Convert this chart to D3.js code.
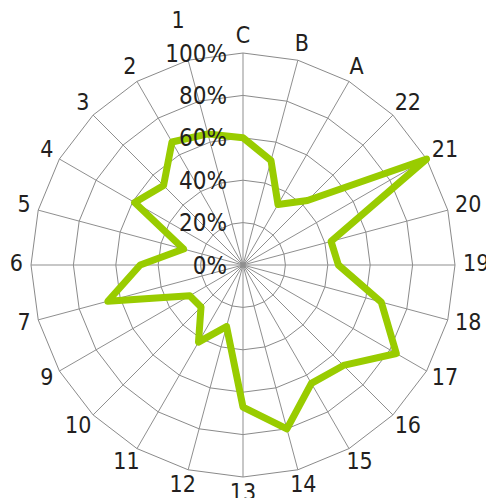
<!DOCTYPE html>
<html>
<head>
<meta charset="utf-8">
<script src="https://cdn.jsdelivr.net/npm/d3@7"></script>
<style>
  html, body { margin: 0; padding: 0; background: #fff; }
  svg { display: block; }
  text { font-family: "Liberation Sans Narrow", "DejaVu Sans Condensed", "Roboto", sans-serif; fill: #231f20; }
</style>
</head>
<body>
<svg id="chart" width="486" height="498"></svg>
<script>
// ---- data ----
const categories = ["C","B","A","22","21","20","19","18","17","16","15","14","13","12","11","10","9","7","6","5","4","3","2","1"];
const values = [60, 51, 33, 43, 100, 43, 45, 67.5, 83.5, 67, 64.5, 80, 67, 30, 42, 28, 29, 66, 48.5, 29, 59, 53, 67, 64];
const tickValues = [0, 20, 40, 60, 80, 100];
const tickLabels = ["0%", "20%", "40%", "60%", "80%", "100%"];

// ---- layout ----
const W = 486, H = 498;
const cx = 243, cy = 265, R = 212;
const svg = d3.select("#chart");
const g = svg.append("g").attr("transform", `translate(${cx},${cy})`);

const n = categories.length;
const angle = d3.scaleLinear().domain([0, n]).range([0, 2 * Math.PI]);
const r = d3.scaleLinear().domain([0, 100]).range([0, R]);

const pt = (i, v) => [r(v) * Math.sin(angle(i)), -r(v) * Math.cos(angle(i))];

// rings
const ringLine = d3.line().curve(d3.curveLinearClosed);
g.append("g").selectAll("path")
  .data(tickValues.filter(t => t > 0))
  .join("path")
  .attr("d", t => ringLine(d3.range(n).map(i => pt(i, t))))
  .attr("fill", "none")
  .attr("stroke", "#8a8a8a")
  .attr("stroke-width", 1);

// spokes
g.append("g").selectAll("line")
  .data(d3.range(n))
  .join("line")
  .attr("x1", 0).attr("y1", 0)
  .attr("x2", i => pt(i, 100)[0])
  .attr("y2", i => pt(i, 100)[1])
  .attr("stroke", "#8f8f8f")
  .attr("stroke-width", 1);

// data line
const radial = d3.lineRadial()
  .angle((d, i) => angle(i))
  .radius(d => r(d))
  .curve(d3.curveLinearClosed);
g.append("path")
  .datum(values)
  .attr("d", radial)
  .attr("fill", "none")
  .attr("stroke", "#99cc00")
  .attr("stroke-width", 7)
  .attr("stroke-linejoin", "round");

// tick labels
const tickG = g.append("g");
tickG.selectAll("text")
  .data(tickValues)
  .join("text")
  .attr("x", -16)
  .attr("y", t => -r(t))
  .attr("dy", "0.36em")
  .attr("text-anchor", "end")
  .style("font-size", "24px")
  .text((t, i) => tickLabels[i]);

const tickBoxes = [];
tickG.selectAll("text").each(function () { tickBoxes.push(this.getBBox()); });

// category labels
const fs = 23, capH = fs * 0.72;
const labG = g.append("g");
categories.forEach((c, i) => {
  const a = angle(i);
  const s = Math.sin(a), co = Math.cos(a);
  const t = labG.append("text")
    .attr("text-anchor", "middle")
    .style("font-size", fs + "px")
    .text(c);
  const w = t.node().getComputedTextLength();
  const place = (rad) => {
    const x = rad * s + (w / 2) * s;
    const y = -rad * co - (capH / 2) * co - 2;
    return [x, y];
  };
  let rad = 220;
  let [x, y] = place(rad);
  const overlaps = (x, y, pad) => tickBoxes.some(b =>
    x + w / 2 + pad > b.x && x - w / 2 - pad < b.x + b.width &&
    y + capH / 2 + pad > b.y && y - capH / 2 - pad < b.y + b.height);
  if (overlaps(x, y, 0)) {
    while (overlaps(x, y, 12) && rad < 300) { rad += 1; [x, y] = place(rad); }
  }
  t.attr("x", x).attr("y", y + capH / 2);
});
</script>
</body>
</html>
